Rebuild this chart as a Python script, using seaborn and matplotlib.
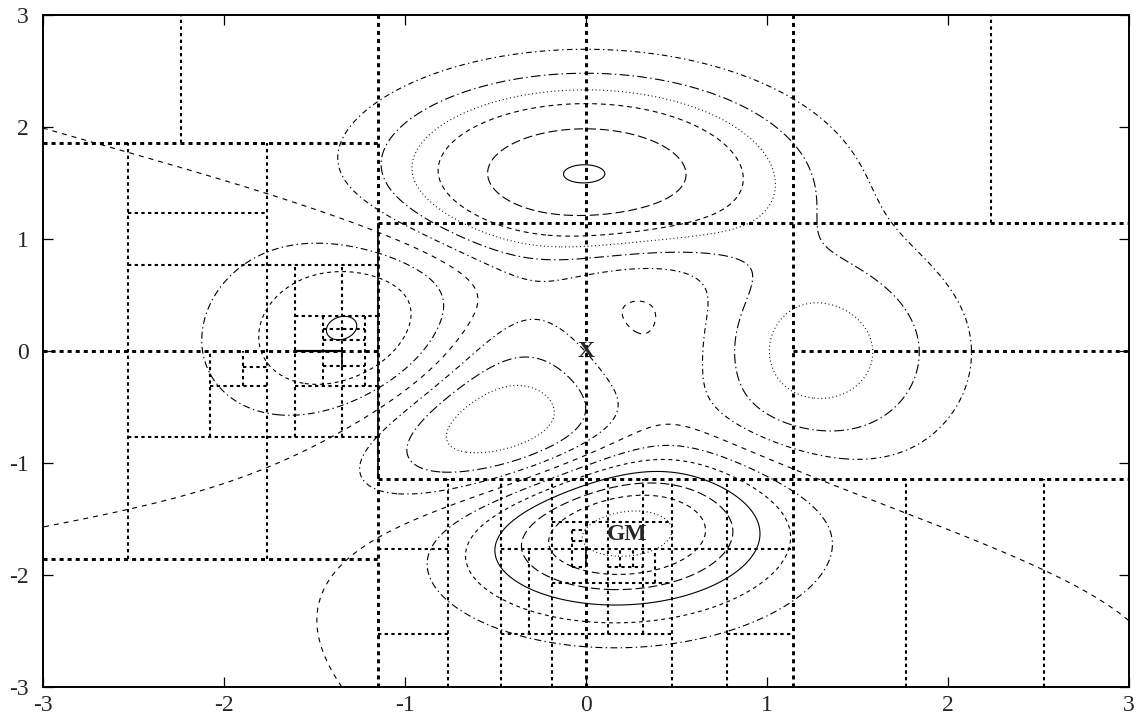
import numpy as np
import matplotlib
matplotlib.use("Agg")
import matplotlib.pyplot as plt
import seaborn as sns

# contour levels drawn on the test surface (peaks)
levels = [-6, -5, -4, -3, -2, -1, 0, 1, 2, 3, 4, 6, 8]

# box edges of the search: vertical (x, y0, y1) and horizontal (y, x0, x1)
v_heavy = [(-1.146, -3, 3), (0.0, -3, 3), (1.146, -3, 3)]
h_heavy = [(1.854, -3, -1.146), (-1.854, -3, -1.146), (0.0, -3, -1.146),
           (0.0, 1.146, 3), (1.146, -1.146, 3), (-1.146, -1.146, 3)]

v_light = [(-2.235, 1.854, 3), (2.24, 1.146, 3),
           (-2.527, -1.854, 1.854), (-1.763, -1.854, 1.854),
           (-1.604, -0.765, 0.765), (-1.348, -0.765, 0.765),
           (-2.076, -0.765, 0.0), (-1.892, -0.3125, 0.0),
           (-1.453, -0.3125, 0.3125), (-1.219, -0.3125, 0.3125),
           (-0.762, -3, -1.146), (-0.468, -3, -1.146), (-0.311, -2.53, -1.768),
           (-0.188, -3, -1.146), (-0.077, -1.93, -1.60), (0.125, -2.53, -1.146),
           (0.19, -1.93, -1.768), (0.263, -1.93, -1.768), (0.318, -2.53, -1.146),
           (0.383, -2.07, -1.768), (0.475, -3, -1.146), (0.779, -3, -1.146),
           (1.771, -3, -1.146), (2.53, -3, -1.146)]
h_light = [(1.235, -2.527, -1.763), (0.765, -2.527, -1.146), (-0.765, -2.527, -1.146),
           (0.3125, -1.604, -1.146), (-0.3125, -2.076, -1.763), (-0.3125, -1.604, -1.146),
           (-0.14, -1.892, -1.763), (0.2, -1.453, -1.219), (0.098, -1.453, -1.219),
           (-0.134, -1.453, -1.219),
           (-1.768, -1.146, -0.762), (-1.768, -0.468, 1.146),
           (-2.53, -1.146, -0.762), (-2.53, -0.468, 0.475), (-2.53, 0.779, 1.146),
           (-1.524, -0.188, 0.475), (-2.07, -0.188, 0.475),
           (-1.60, -0.077, 0.0), (-1.70, -0.077, 0.0), (-1.93, -0.077, 0.0),
           (-1.93, 0.125, 0.318)]

# edges shared by two boxes, where the dashes overlap into a solid line
v_shared = [(-1.146, -1.146, 1.146), (-1.348, -0.14, 0.0), (0.0, -1.93, -1.768)]
h_shared = [(0.0, -1.604, -1.348)]

# marked points
point_labels = ["X", "GM"]
point_x = [0.0, 0.228]
point_y = [0.0, -1.64]

ticks = [-3, -2, -1, 0, 1, 2, 3]

sns.set_style("ticks")
plt.rcParams["font.family"] = ["Liberation Serif", "DejaVu Serif"]
plt.rcParams["axes.unicode_minus"] = False
plt.rcParams["lines.scale_dashes"] = False

fig = plt.figure(figsize=(11.37, 7.22), dpi=100)
ax = fig.add_axes([0.0376, 0.0485, 0.9551, 0.9307])

grid = np.linspace(-3, 3, 401)
X, Y = np.meshgrid(grid, grid)
Z = (3 * (1 - X) ** 2 * np.exp(-X ** 2 - (Y + 1) ** 2)
     - 10 * (X / 5 - X ** 3 - Y ** 5) * np.exp(-X ** 2 - Y ** 2)
     - np.exp(-(X + 1) ** 2 - Y ** 2) / 3)

dot = (0, (0.7, 2.0))
dash = (0, (3.5, 2.8))
longdash = (0, (6.5, 2.8))
styles = [dot, dash, longdash, "solid",
          (0, (2.8, 2.6)), (0, (5, 2.4, 1, 2.4)), (0, (3.6, 3.6)),
          (0, (4, 2.4, 1, 2.4)), (0, (7, 2.4, 1, 2.4)),
          dot, dash, longdash, "solid"]
ax.contour(X, Y, Z, levels=levels, colors="black", linewidths=0.8, linestyles=styles)

box_dash = (0, (2.9, 2.9))
ax.vlines([s[0] for s in v_heavy], [s[1] for s in v_heavy], [s[2] for s in v_heavy],
          colors="black", linewidth=2.1, linestyles=[box_dash])
ax.hlines([s[0] for s in h_heavy], [s[1] for s in h_heavy], [s[2] for s in h_heavy],
          colors="black", linewidth=2.1, linestyles=[box_dash])
ax.vlines([s[0] for s in v_light], [s[1] for s in v_light], [s[2] for s in v_light],
          colors="black", linewidth=1.5, linestyles=[(0, (2.4, 2.4))])
ax.hlines([s[0] for s in h_light], [s[1] for s in h_light], [s[2] for s in h_light],
          colors="black", linewidth=1.5, linestyles=[(0, (2.4, 2.4))])
ax.vlines([s[0] for s in v_shared], [s[1] for s in v_shared], [s[2] for s in v_shared],
          colors="black", linewidth=1.2)
ax.hlines([s[0] for s in h_shared], [s[1] for s in h_shared], [s[2] for s in h_shared],
          colors="black", linewidth=1.6)

for label, px, py in zip(point_labels, point_x, point_y):
    ax.text(px, py, label, ha="center", va="center", fontsize=17, fontweight="bold")

ax.set_xlim(-3, 3)
ax.set_ylim(-3, 3)
ax.set_xticks(ticks)
ax.set_yticks(ticks)
ax.tick_params(direction="in", length=7, width=0.9, top=True, right=True,
               labelsize=17, color="black")
ax.tick_params(axis="x", pad=6)
ax.tick_params(axis="y", pad=10)
for spine in ax.spines.values():
    spine.set_linewidth(1.4)
    spine.set_color("black")

fig.savefig("out.png", dpi=100)
